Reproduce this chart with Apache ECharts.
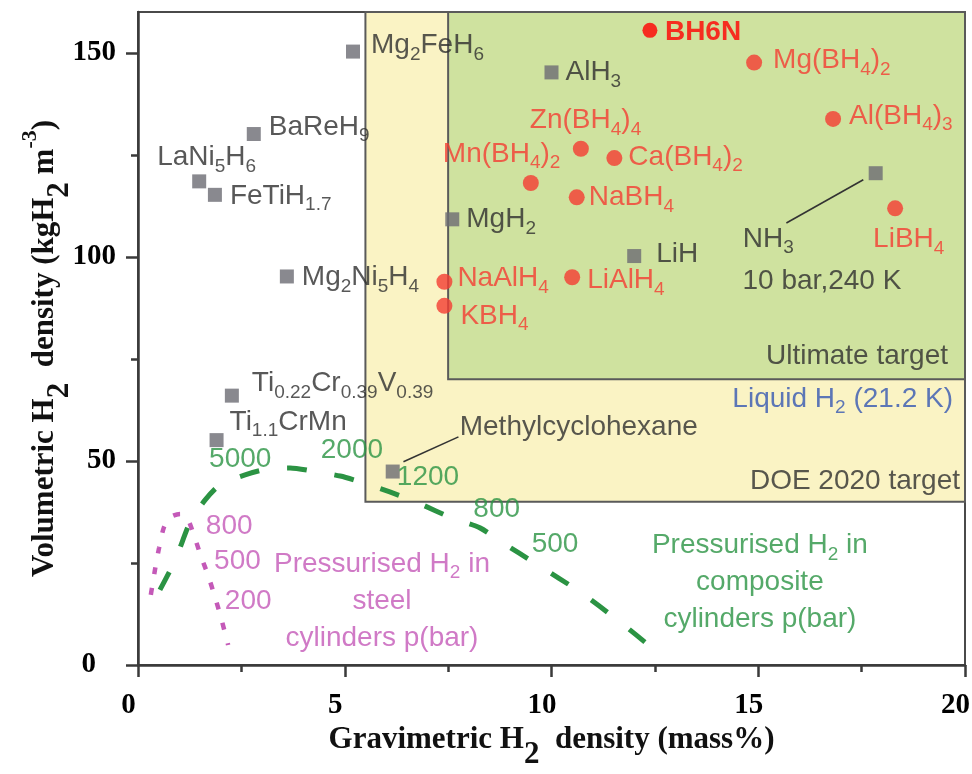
<!DOCTYPE html>
<html><head><meta charset="utf-8">
<script src="https://cdn.jsdelivr.net/npm/echarts@6/dist/echarts.min.js"></script>
<style>html,body{margin:0;padding:0;background:#fff}#c{width:972px;height:774px}</style>
</head><body><div id="c"></div>
<script>
// ---------------- data ----------------
const xTicks = [0, 5, 10, 15, 20];
const xMinorTicks = [2.5, 7.5, 12.5, 17.5];
const yTicks = [0, 50, 100, 150];
const yMinorTicks = [25, 75, 125];

const hydrideNames = ['Mg_{2}FeH_{6}', 'BaReH_{9}', 'LaNi_{5}H_{6}', 'FeTiH_{1.7}', 'Mg_{2}Ni_{5}H_{4}',
  'Ti_{0.22}Cr_{0.39}V_{0.39}', 'Ti_{1.1}CrMn', 'Methylcyclohexane', 'MgH_{2}', 'AlH_{3}', 'LiH', 'NH_{3}'];
const hydrideX = [5.2, 2.8, 1.48, 1.86, 3.6, 2.27, 1.9, 6.16, 7.6, 10.0, 12.0, 17.84];
const hydrideY = [150.3, 130.1, 118.5, 115.2, 95.2, 66.0, 55.1, 47.4, 109.2, 145.2, 100.2, 120.5];

const borohydrideNames = ['Mg(BH_{4})_{2}', 'Al(BH_{4})_{3}', 'Zn(BH_{4})_{4}', 'Ca(BH_{4})_{2}', 'Mn(BH_{4})_{2}',
  'NaBH_{4}', 'LiBH_{4}', 'NaAlH_{4}', 'KBH_{4}', 'LiAlH_{4}'];
const borohydrideX = [14.9, 16.81, 10.71, 11.52, 9.5, 10.61, 18.31, 7.41, 7.41, 10.5];
const borohydrideY = [147.6, 133.8, 126.5, 124.2, 118.1, 114.6, 111.9, 93.9, 88.0, 95.0];

const highlightNames = ['BH6N'];
const highlightX = [12.38];
const highlightY = [155.5];

const compositeX = [0.53, 0.9, 1.26, 1.62, 1.98, 2.59, 3.12, 3.68, 4.23, 4.89, 5.37, 6.09, 6.82, 7.59, 8.27, 8.75, 9.67, 10.69, 11.6, 12.55];
const compositeY = [18.4, 25.7, 35.0, 40.4, 44.1, 46.6, 48.0, 48.3, 47.5, 46.3, 44.9, 42.4, 39.5, 36.0, 33.6, 30.4, 24.5, 17.9, 11.0, 3.2];
const steelX = [0.31, 0.41, 0.51, 0.63, 0.8, 1.02, 1.19, 1.35, 1.52, 1.69, 1.86, 2.01, 2.18];
const steelY = [17.2, 23.3, 28.7, 33.8, 36.3, 37.0, 36.0, 31.9, 26.7, 22.1, 16.7, 11.5, 4.9];

const compositePressures = ['5000', '2000', '1200', '800', '500'];
const compositePressureX = [1.72, 4.42, 6.26, 8.11, 9.52];
const compositePressureY = [50.5, 52.5, 46.0, 38.2, 29.7];
const steelPressures = ['800', '500', '200'];
const steelPressureX = [1.64, 1.84, 2.10];
const steelPressureY = [34.1, 25.3, 15.7];

const steelCaption = ['Pressurised H_{2} in\nsteel\ncylinders p(bar)'];
const steelCaptionX = [5.9];
const steelCaptionY = [15.7];
const compositeCaption = ['Pressurised H_{2} in\ncomposite\ncylinders p(bar)'];
const compositeCaptionX = [15.04];
const compositeCaptionY = [20.2];

const targetLabels = ['Ultimate target', 'DOE 2020 target'];
const targetLabelX = [19.59, 19.88];
const targetLabelY = [75.7, 45.1];
const liquidLabel = ['Liquid H_{2} (21.2 K)'];
const liquidLabelX = [19.71];
const liquidLabelY = [65.2];
const nh3Condition = ['10 bar,240 K'];
const nh3ConditionX = [14.62];
const nh3ConditionY = [94.1];

const doeTargetX = [5.5, 20];
const doeTargetY = [40, 160];
const ultimateTargetX = [7.5, 20];
const ultimateTargetY = [70, 160];

const nh3LeaderX = [17.54, 15.68];
const nh3LeaderY = [118.9, 108.3];
const mchLeaderX = [7.75, 6.42];
const mchLeaderY = [55.9, 49.8];

// ---------------- styles ----------------
const SANS = '"Liberation Sans", Arial, Helvetica, sans-serif';
const SERIF = '"Liberation Serif", "Times New Roman", serif';
const GRAY_TEXT = '#2e2e2e';
const RED = '#f43c32';
const GREEN = '#2b9343';
const MAGENTA = '#c459b8';

const labelOffsets = {
  'Mg_{2}FeH_{6}': [18, -6], 'BaReH_{9}': [15, -7], 'LaNi_{5}H_{6}': [-42, -24], 'FeTiH_{1.7}': [15, 1],
  'Mg_{2}Ni_{5}H_{4}': [15, 1], 'Ti_{0.22}Cr_{0.39}V_{0.39}': [20, -12], 'Ti_{1.1}CrMn': [13, -18],
  'Methylcyclohexane': [67, -44], 'MgH_{2}': [14, 0], 'AlH_{3}': [14, 0], 'LiH': [22, -2], 'NH_{3}': [-133, 66],
  'Mg(BH_{4})_{2}': [19, -2], 'Al(BH_{4})_{3}': [16, -3], 'Zn(BH_{4})_{4}': [-51, -28], 'Ca(BH_{4})_{2}': [14, -1],
  'Mn(BH_{4})_{2}': [-88, -29], 'NaBH_{4}': [12, 0], 'LiBH_{4}': [-22, 31], 'NaAlH_{4}': [13, -3],
  'KBH_{4}': [16, 10], 'LiAlH_{4}': [15, 3], 'BH6N': [15, 2]
};

function toRich(s) {
  return s.split('\n').map(line => {
    let res = '', buf = '', i = 0;
    while (i < line.length) {
      const c = line[i];
      if ((c === '_' || c === '^') && line[i + 1] === '{') {
        const end = line.indexOf('}', i);
        if (buf) { res += '{b|' + buf + '}'; buf = ''; }
        res += '{' + (c === '_' ? 's' : 'p') + '|' + line.slice(i + 2, end) + '}';
        i = end + 1;
      } else { buf += c; i++; }
    }
    if (buf) res += '{b|' + buf + '}';
    return res;
  }).join('\n');
}

// sub/sup tokens: a small token 'height' aligned to bottom/top shifts them by `drop` px from the base centre
function richSet(color, size, lh, drop, family, weight) {
  const sub = Math.round(size * 0.68);
  const h = Math.max(1, lh - 2 * drop);
  const common = { fontSize: sub, color, fontFamily: family, fontWeight: weight || 'normal', lineHeight: lh, height: h };
  return {
    b: { fontSize: size, lineHeight: lh, verticalAlign: 'middle', color, fontFamily: family, fontWeight: weight || 'normal' },
    s: Object.assign({ verticalAlign: 'bottom' }, common),
    p: Object.assign({ verticalAlign: 'top' }, common)
  };
}

function zip(xs, ys) { return xs.map((x, i) => [x, ys[i]]); }

function pointSeries(names, xs, ys, symbol, size, color, textColor, weight) {
  return {
    type: 'scatter', z: 6, silent: true,
    symbol, symbolSize: size,
    itemStyle: { color },
    data: names.map((n, i) => ({
      name: n, value: [xs[i], ys[i]],
      label: { offset: labelOffsets[n] || [12, 0] }
    })),
    label: {
      show: true, position: 'inside', align: 'left', verticalAlign: 'middle',
      color: textColor,
      formatter: p => toRich(p.name),
      rich: richSet(textColor, 28, 30, 9, SANS, weight)
    }
  };
}

function textSeries(texts, xs, ys, color, align, lh) {
  return {
    type: 'scatter', z: 7, silent: true, symbolSize: 0,
    data: texts.map((t, i) => ({ name: t, value: [xs[i], ys[i]] })),
    label: {
      show: true, position: 'inside', align, verticalAlign: 'middle', color,
      formatter: p => toRich(p.name),
      rich: richSet(color, 28, lh || 30, 9, SANS)
    }
  };
}

function leaderSeries(xs, ys) {
  return {
    type: 'line', z: 4, silent: true, showSymbol: false, symbol: 'none',
    data: zip(xs, ys),
    lineStyle: { color: '#333', width: 1.6 }
  };
}

const axisLineStyle = { color: '#3a3a3a', width: 2.5 };
const titleT = { fontFamily: SERIF, fontWeight: 'bold', fontSize: 31, lineHeight: 34, color: '#111', verticalAlign: 'middle' };
const tickFont = { fontFamily: SERIF, fontWeight: 'bold', fontSize: 29, color: '#000' };

const option = {
  animation: false,
  backgroundColor: '#ffffff',
  grid: { left: 138, right: 7, top: 12, bottom: 109, containLabel: false, outerBoundsMode: 'none',
          show: true, borderColor: '#4a4a4a', borderWidth: 2, backgroundColor: 'transparent' },
  xAxis: [
    {
      type: 'value', min: 0, max: 20, position: 'bottom',
      axisLine: { show: true, onZero: false, lineStyle: axisLineStyle },
      axisTick: { show: true, customValues: xTicks, length: 12, lineStyle: axisLineStyle },
      axisLabel: Object.assign({ show: true, customValues: xTicks, margin: 26, lineHeight: 30, padding: [0, 19, 0, 0] }, tickFont),
      splitLine: { show: false },
      name: '{t|Gravimetric H}{s|2}{t|  density (mass%)}',
      nameLocation: 'middle', nameGap: 58, nameMoveOverlap: false,
      nameTextStyle: {
        rich: {
          t: titleT,
          s: Object.assign({}, titleT, { height: 4, verticalAlign: 'bottom' })
        }
      }
    },
    {
      type: 'value', min: 0, max: 20, position: 'bottom',
      axisLine: { show: false },
      axisTick: { show: true, customValues: xMinorTicks, length: 7, lineStyle: axisLineStyle },
      axisLabel: { show: false },
      splitLine: { show: false }
    }
  ],
  yAxis: [
    {
      type: 'value', min: 0, max: 160, position: 'left',
      axisLine: { show: true, onZero: false, lineStyle: axisLineStyle },
      axisTick: { show: true, customValues: yTicks, length: 12, lineStyle: axisLineStyle },
      axisLabel: Object.assign({
        show: true, customValues: yTicks, margin: 22,
        formatter: v => (v === 0 ? '{z|0}' : String(v)),
        rich: { z: Object.assign({ padding: [0, 20, 0, 0] }, tickFont) }
      }, tickFont),
      splitLine: { show: false },
      name: '{t|Volumetric H}{s|2}{t|  density (kgH}{s|2}{t| m}{p|-3}{t|)}',
      nameLocation: 'middle', nameGap: 76, nameMoveOverlap: false,
      nameTextStyle: {
        padding: [0, 20, 0, 0],
        rich: {
          t: titleT,
          s: Object.assign({}, titleT, { height: 4, verticalAlign: 'bottom' }),
          p: Object.assign({}, titleT, { fontSize: 22, height: 4, verticalAlign: 'top' })
        }
      }
    },
    {
      type: 'value', min: 0, max: 160, position: 'left',
      axisLine: { show: false },
      axisTick: { show: true, customValues: yMinorTicks, length: 7, lineStyle: axisLineStyle },
      axisLabel: { show: false },
      splitLine: { show: false }
    }
  ],
  series: [
    {
      type: 'scatter', z: 1, silent: true, data: [],
      markArea: {
        silent: true,
        label: { show: false },
        data: [
          [{ xAxis: doeTargetX[0], yAxis: doeTargetY[0], itemStyle: { color: '#faf3c4', borderColor: '#5a5a5a', borderWidth: 2 } },
           { xAxis: doeTargetX[1], yAxis: doeTargetY[1] }],
          [{ xAxis: ultimateTargetX[0], yAxis: ultimateTargetY[0], itemStyle: { color: '#cfe29f', borderColor: '#5a5a5a', borderWidth: 2 } },
           { xAxis: ultimateTargetX[1], yAxis: ultimateTargetY[1] }]
        ]
      }
    },
    {
      type: 'line', z: 3, silent: true, showSymbol: false, symbol: 'none', smooth: 0.25,
      data: zip(compositeX, compositeY),
      lineStyle: { color: GREEN, width: 5, type: [20, 28], cap: 'butt' }
    },
    {
      type: 'line', z: 3, silent: true, showSymbol: false, symbol: 'none', smooth: 0.25,
      data: zip(steelX, steelY),
      lineStyle: { color: MAGENTA, width: 4.5, type: [7, 14], cap: 'butt' }
    },
    leaderSeries(nh3LeaderX, nh3LeaderY),
    leaderSeries(mchLeaderX, mchLeaderY),
    pointSeries(hydrideNames, hydrideX, hydrideY, 'rect', 14, '#6b6b73', GRAY_TEXT),
    pointSeries(borohydrideNames, borohydrideX, borohydrideY, 'circle', 16, RED, RED),
    pointSeries(highlightNames, highlightX, highlightY, 'circle', 15, '#ff0000', '#ff0000', 'bold'),
    textSeries(compositePressures, compositePressureX, compositePressureY, GREEN, 'left'),
    textSeries(steelPressures, steelPressureX, steelPressureY, MAGENTA, 'left'),
    textSeries(steelCaption, steelCaptionX, steelCaptionY, MAGENTA, 'center', 37),
    textSeries(compositeCaption, compositeCaptionX, compositeCaptionY, GREEN, 'center', 37),
    textSeries(targetLabels, targetLabelX, targetLabelY, GRAY_TEXT, 'right'),
    textSeries(liquidLabel, liquidLabelX, liquidLabelY, '#3556b3', 'right'),
    textSeries(nh3Condition, nh3ConditionX, nh3ConditionY, GRAY_TEXT, 'left')
  ]
};

const chart = echarts.init(document.getElementById('c'), null, { renderer: 'canvas' });
chart.setOption(option);
</script>
</body></html>
